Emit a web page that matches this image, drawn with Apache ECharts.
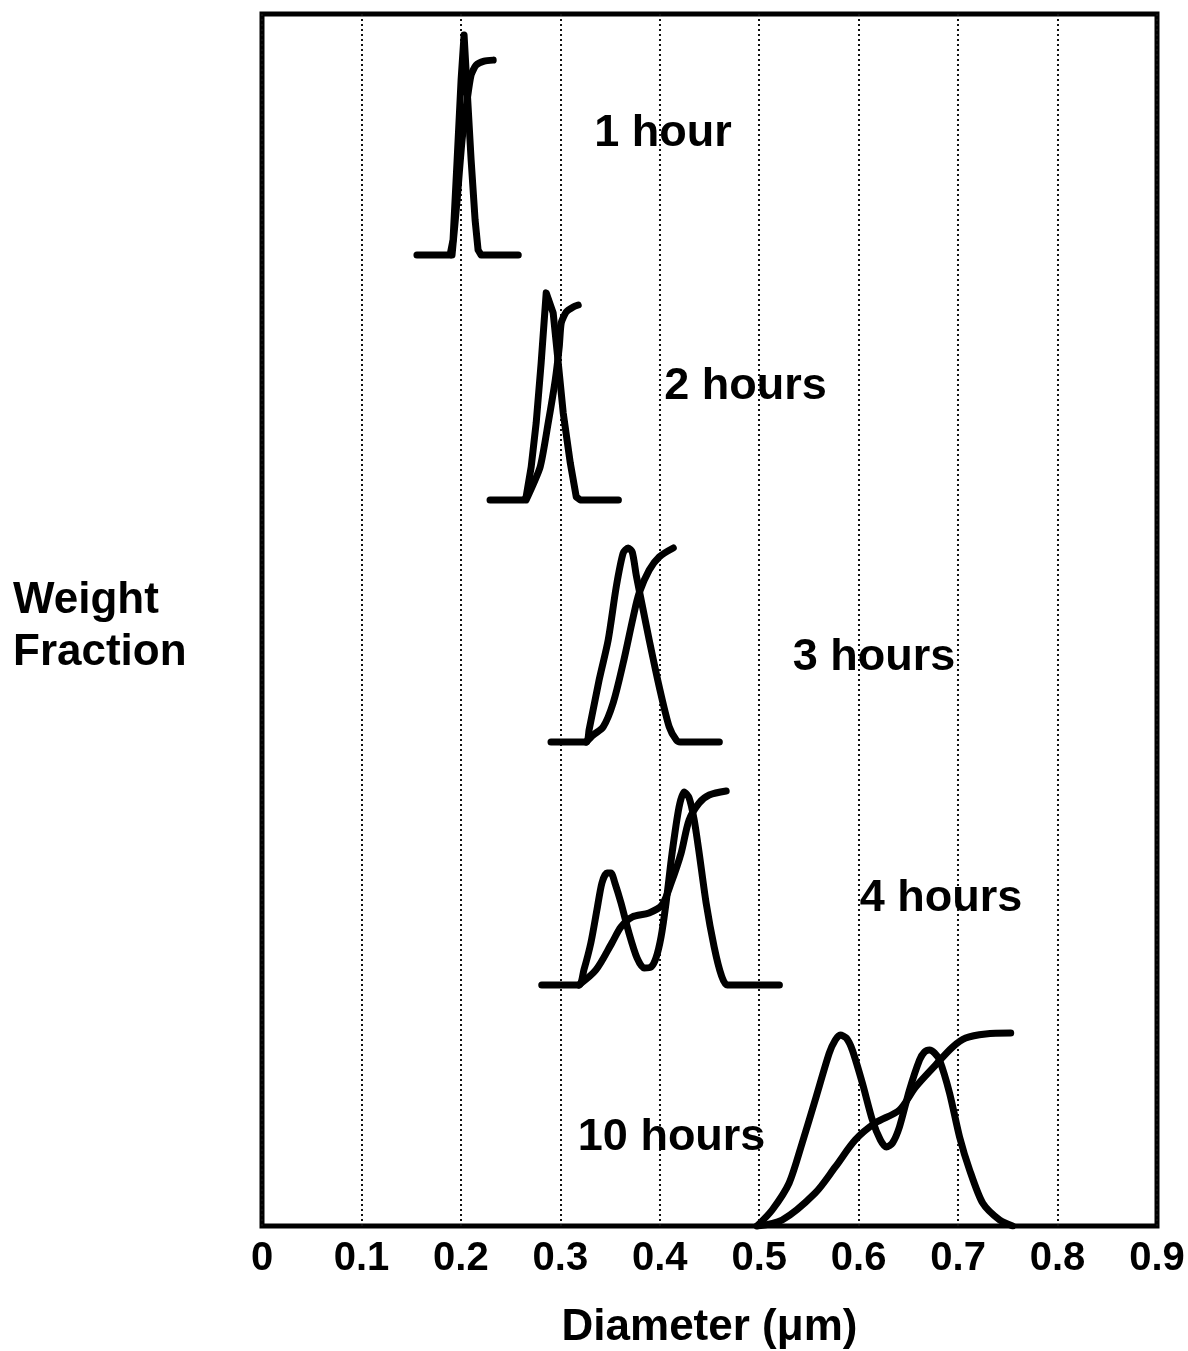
<!DOCTYPE html>
<html>
<head>
<meta charset="utf-8">
<title>Weight fraction vs. diameter</title>
<script src="https://cdn.jsdelivr.net/npm/echarts@6/dist/echarts.min.js"></script>
<style>
  html, body { margin: 0; padding: 0; background: #fff; }
  #chart { width: 1188px; height: 1351px; }
</style>
</head>
<body>
<div id="chart"></div>
<script>
// Diameter axis tick labels (µm)
const tickLabels = ['0', '0.1', '0.2', '0.3', '0.4', '0.5', '0.6', '0.7', '0.8', '0.9'];

// Sampling times, top to bottom
const sampleTimes = ['1 hour', '2 hours', '3 hours', '4 hours', '10 hours'];

// Vertical offset of each distribution (stacked plot)
const baselines = [5.031, 3.762, 2.508, 1.249, 0];

// Weight-fraction distributions: [diameter µm, relative weight fraction]
const freq1h = [[0.1558, 0], [0.1891, 0], [0.1921, 0.078], [0.1962, 0.492], [0.2002, 0.907], [0.2032, 1.140],
  [0.2063, 0.855], [0.2103, 0.492], [0.2143, 0.181], [0.2173, 0.026], [0.2204, 0], [0.2577, 0]];
const freq2h = [[0.2293, 0], [0.2636, 0], [0.2656, 0.016], [0.2707, 0.171], [0.2757, 0.399], [0.2807, 0.710],
  [0.2858, 1.073], [0.2928, 0.969], [0.2979, 0.710], [0.3029, 0.451], [0.3100, 0.192], [0.3160, 0.016],
  [0.3201, 0], [0.3584, 0]];
const freq3h = [[0.2906, 0], [0.3259, 0], [0.3289, 0.062], [0.3390, 0.321], [0.3481, 0.528], [0.3562, 0.803],
  [0.3632, 0.979], [0.3682, 1.005], [0.3723, 0.984], [0.3763, 0.865], [0.3823, 0.710], [0.3894, 0.528],
  [0.3995, 0.285], [0.4095, 0.078], [0.4166, 0.010], [0.4206, 0], [0.4599, 0]];
const freq4h = [[0.2813, 0], [0.3186, 0], [0.3237, 0.078], [0.3307, 0.218], [0.3368, 0.389], [0.3418, 0.528],
  [0.3469, 0.580], [0.3509, 0.580], [0.3549, 0.528], [0.3610, 0.425], [0.3690, 0.269], [0.3771, 0.140],
  [0.3842, 0.088], [0.3912, 0.093], [0.3962, 0.140], [0.4013, 0.249], [0.4063, 0.425], [0.4124, 0.684],
  [0.4194, 0.922], [0.4245, 1.000], [0.4295, 0.969], [0.4346, 0.855], [0.4396, 0.684], [0.4466, 0.425],
  [0.4547, 0.197], [0.4618, 0.052], [0.4678, 0], [0.5203, 0]];
const freq10h = [[0.4979, 0], [0.5130, 0.083], [0.5301, 0.223], [0.5432, 0.430], [0.5563, 0.653], [0.5704, 0.896],
  [0.5765, 0.964], [0.5815, 0.990], [0.5876, 0.974], [0.5936, 0.912], [0.6037, 0.741], [0.6138, 0.549],
  [0.6218, 0.446], [0.6279, 0.409], [0.6340, 0.430], [0.6410, 0.513], [0.6511, 0.705], [0.6612, 0.860],
  [0.6662, 0.902], [0.6713, 0.912], [0.6763, 0.896], [0.6813, 0.860], [0.6914, 0.689], [0.7015, 0.461],
  [0.7116, 0.290], [0.7247, 0.119], [0.7418, 0.031], [0.7549, 0]];

// Cumulative weight fractions: [diameter µm, cumulative fraction]
const cum1h = [[0.1911, 0], [0.1962, 0.285], [0.2012, 0.596], [0.2063, 0.803], [0.2103, 0.933], [0.2153, 0.984],
  [0.2234, 1.005], [0.2325, 1.010]];
const cum2h = [[0.2656, 0], [0.2797, 0.171], [0.2878, 0.399], [0.2949, 0.622], [0.2989, 0.793], [0.3009, 0.917],
  [0.3059, 0.974], [0.3130, 1.000], [0.3180, 1.010]];
const cum3h = [[0.3259, 0], [0.3330, 0.036], [0.3431, 0.078], [0.3531, 0.202], [0.3632, 0.409], [0.3733, 0.648],
  [0.3793, 0.772], [0.3894, 0.891], [0.3995, 0.959], [0.4136, 1.005]];
const cum4h = [[0.3186, 0], [0.3358, 0.078], [0.3519, 0.218], [0.3610, 0.301], [0.3721, 0.352], [0.3892, 0.373],
  [0.4023, 0.415], [0.4114, 0.528], [0.4215, 0.684], [0.4295, 0.855], [0.4396, 0.943], [0.4497, 0.984],
  [0.4668, 1.005]];
const cum10h = [[0.4979, 0], [0.5231, 0.031], [0.5563, 0.171], [0.5765, 0.306], [0.5966, 0.446], [0.6168, 0.534],
  [0.6410, 0.601], [0.6572, 0.720], [0.6773, 0.834], [0.6944, 0.927], [0.7076, 0.974], [0.7277, 0.995],
  [0.7529, 1.000]];

// Where each time label starts, in axis units [diameter, height]
const labelAt = [[0.334, 5.658], [0.4045, 4.347], [0.5336, 2.943], [0.601, 1.699], [0.3176, 0.456]];

const FONT = '"Liberation Sans", Arial, Helvetica, sans-serif';

const groups = [
  { freq: freq1h, cum: cum1h, smooth: false },
  { freq: freq2h, cum: cum2h, smooth: false },
  { freq: freq3h, cum: cum3h, smooth: 0.25 },
  { freq: freq4h, cum: cum4h, smooth: 0.25 },
  { freq: freq10h, cum: cum10h, smooth: 0.25 }
];

const curveStyle = { color: '#000', width: 7, cap: 'round', join: 'round' };

const series = [];
groups.forEach(function (g, i) {
  const lift = function (p) { return [p[0], p[1] + baselines[i]]; };
  series.push({
    name: sampleTimes[i] + ' distribution',
    type: 'line',
    data: g.freq.map(lift),
    showSymbol: false,
    smooth: g.smooth,
    lineStyle: curveStyle,
    z: 3
  });
  series.push({
    name: sampleTimes[i] + ' cumulative',
    type: 'line',
    data: g.cum.map(lift),
    showSymbol: false,
    smooth: g.smooth === false ? 0.2 : 0.3,
    lineStyle: curveStyle,
    z: 3
  });
});

series.push({
  name: 'times',
  type: 'scatter',
  symbolSize: 0,
  itemStyle: { opacity: 1, color: '#000' },
  data: labelAt.map(function (p, i) { return { value: p, label: { formatter: sampleTimes[i] } }; }),
  label: {
    show: true,
    position: 'right',
    distance: 0,
    color: '#000',
    fontFamily: FONT,
    fontWeight: 'bold',
    fontSize: 45
  },
  silent: true,
  z: 4
});

const chart = echarts.init(document.getElementById('chart'), null, { renderer: 'canvas' });
chart.setOption({
  animation: false,
  backgroundColor: '#fff',
  grid: {
    left: 262, right: 31, top: 14, bottom: 125,
    outerBoundsMode: 'none',
    containLabel: false,
    show: true, borderColor: '#000', borderWidth: 5, backgroundColor: 'transparent'
  },
  xAxis: {
    type: 'value',
    min: 0, max: 0.9, interval: 0.1,
    axisLine: { show: false },
    axisTick: { show: false },
    splitLine: { show: true, lineStyle: { color: '#111', width: 2, type: [2, 3] } },
    axisLabel: {
      color: '#000', fontFamily: FONT, fontWeight: 'bold', fontSize: 40, margin: 13,
      formatter: function (v) { return tickLabels[Math.round(v * 10)]; }
    },
    name: 'Diameter (\u03bcm)',
    nameLocation: 'middle',
    nameGap: 80,
    nameTextStyle: { color: '#000', fontFamily: FONT, fontWeight: 'bold', fontSize: 44 }
  },
  yAxis: {
    type: 'value',
    min: 0, max: 6.28,
    show: false
  },
  graphic: [{
    type: 'text',
    left: 13, top: 575,
    style: {
      text: 'Weight\nFraction',
      fill: '#000',
      font: 'bold 44px ' + FONT,
      lineHeight: 52
    }
  }],
  series: series
});
</script>
</body>
</html>
